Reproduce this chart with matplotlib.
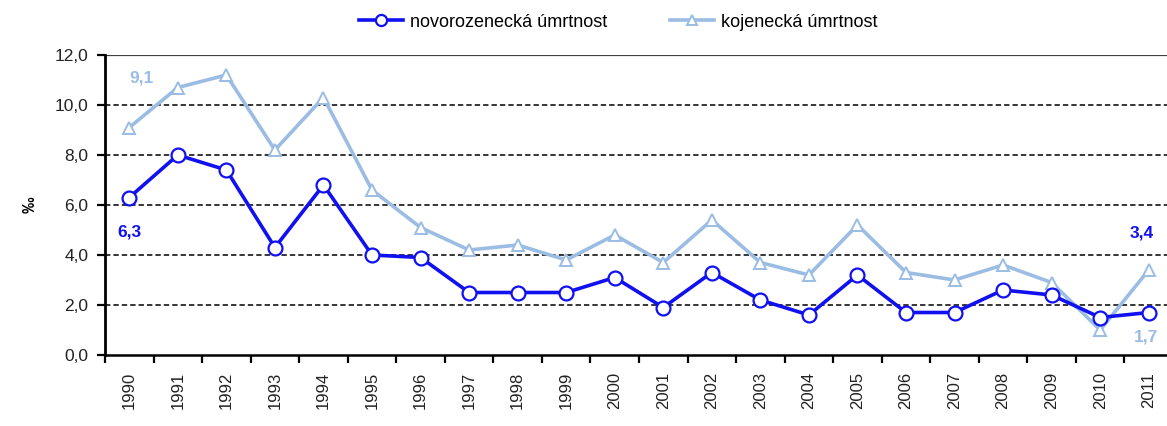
import matplotlib

matplotlib.use("Agg")
import matplotlib.pyplot as plt
import numpy as np

plt.rcParams["font.family"] = ["Liberation Sans", "DejaVu Sans"]

years = [str(y) for y in range(1990, 2012)]
neonatal = [6.3, 8.0, 7.4, 4.3, 6.8, 4.0, 3.9, 2.5, 2.5, 2.5, 3.1, 1.9,
            3.3, 2.2, 1.6, 3.2, 1.7, 1.7, 2.6, 2.4, 1.5, 1.7]
infant = [9.1, 10.7, 11.2, 8.2, 10.3, 6.6, 5.1, 4.2, 4.4, 3.8, 4.8, 3.7,
          5.4, 3.7, 3.2, 5.2, 3.3, 3.0, 3.6, 2.9, 1.0, 3.4]
y_ticks = [0, 2, 4, 6, 8, 10, 12]

DARK = "#1010f0"
LIGHT = "#9bbce3"

fig = plt.figure(figsize=(11.67, 4.26), dpi=100)
ax = fig.add_axes([105 / 1167, 71 / 426, 1068 / 1167, 300 / 426])

x = np.arange(len(years))

for v in y_ticks[1:-1]:
    ax.axhline(v, color="black", lw=1.1, ls=(0, (3.5, 2)), zorder=1)
ax.axhline(12, color="#404040", lw=1.6, zorder=1)

l1, = ax.plot(x, neonatal, color=DARK, lw=2.6, marker="o", ms=10,
              mfc="white", mec=DARK, mew=1.6, zorder=4,
              label="novorozenecká úmrtnost")
l2, = ax.plot(x, infant, color=LIGHT, lw=2.6, marker="^", ms=9,
              mfc="white", mec=LIGHT, mew=1.4, zorder=3,
              label="kojenecká úmrtnost")

fmt = lambda v: f"{v:.1f}".replace(".", ",")
lbl = dict(fontsize=12.5, fontweight="bold", ha="center", va="center")
ax.text(x[0] + 0.25, infant[0] + 2.0, fmt(infant[0]), color=LIGHT, **lbl)
ax.text(x[0], neonatal[0] - 1.38, fmt(neonatal[0]), color=DARK, **lbl)
ax.text(x[-1] - 0.15, neonatal[-1] + 3.2, fmt(infant[-1]), color=DARK, **lbl)
ax.text(x[-1] - 0.05, neonatal[-1] - 1.0, fmt(neonatal[-1]), color=LIGHT, **lbl)

ax.set_xlim(-0.5, len(years) - 0.5)
ax.set_ylim(0, 12)
ax.set_yticks(y_ticks)
ax.set_yticklabels([fmt(v) for v in y_ticks], fontsize=12.5, color="#222222")
ax.set_xticks(x)
ax.set_xticklabels(years, rotation=90, fontsize=12, color="#222222")
ax.set_xticks(np.arange(-0.5, len(years), 1), minor=True)
ax.tick_params(axis="x", which="major", length=0, pad=12)
ax.tick_params(axis="x", which="minor", length=6, width=1.6, direction="out")
ax.tick_params(axis="y", length=6, width=1.6, direction="out", pad=6)

for s in ["top", "right"]:
    ax.spines[s].set_visible(False)
ax.spines["left"].set_linewidth(2)
ax.spines["bottom"].set_linewidth(1.8)

ax.set_ylabel("‰", fontsize=12, fontweight="bold", labelpad=12)

fig.legend(handles=[l1, l2], loc="center", bbox_to_anchor=(0.53, 0.948),
           ncol=2, frameon=False, fontsize=13, handlelength=2.4,
           columnspacing=3.5, handletextpad=0.4, markerscale=0.8)

fig.savefig("out.png", dpi=100)
